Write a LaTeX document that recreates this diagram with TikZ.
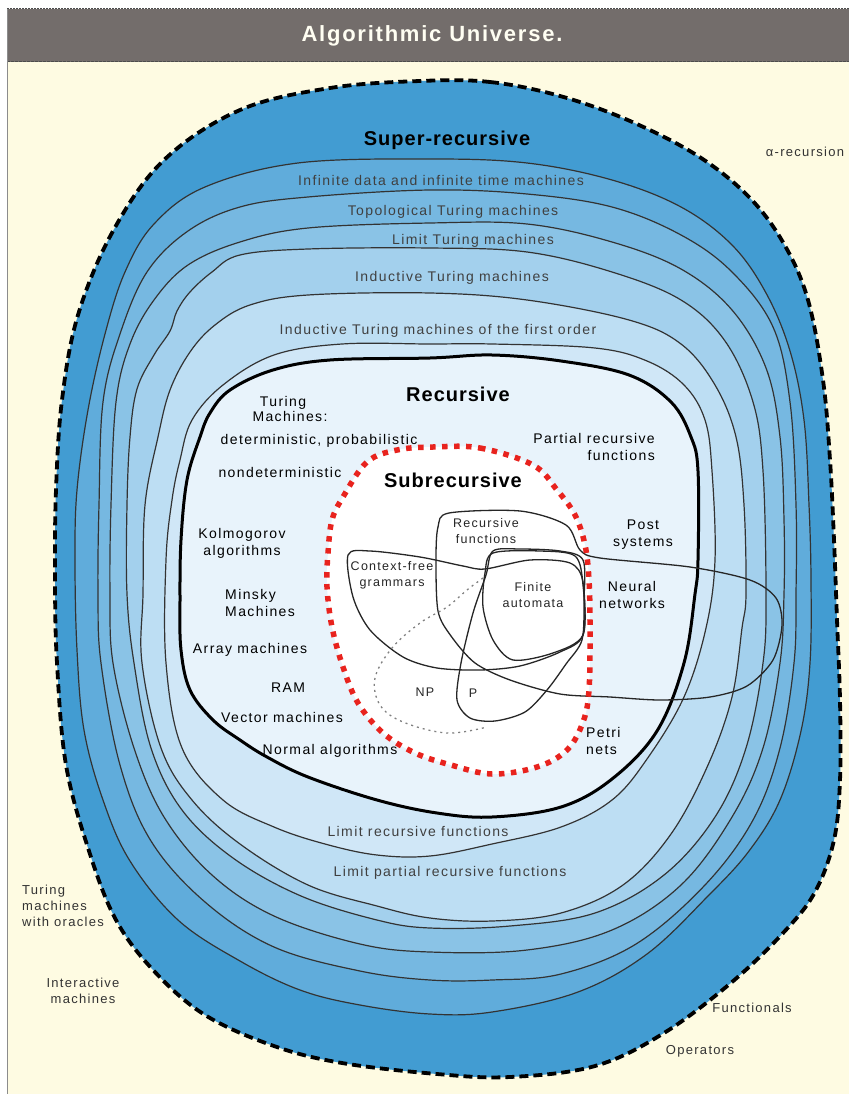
\documentclass[tikz,border=0pt]{standalone}
\usepackage{fontspec}
\setmainfont{Liberation Sans}
\newfontfamily\lblfont[LetterSpace=10]{Liberation Sans}
\newfontfamily\bigfont[LetterSpace=5]{Liberation Sans}
\newfontfamily\titlefont[LetterSpace=8]{Liberation Sans}
\usetikzlibrary{positioning}
\tikzstyle{ring} = [line width=1.2pt, draw=black!80]
\tikzstyle{venn} = [line width=1.3pt, draw=black!85]
\tikzstyle{band} = [font=\lblfont\fontsize{14}{17}\selectfont, text=black!75, inner sep=0pt]
\tikzstyle{inner} = [font=\lblfont\fontsize{14}{17}\selectfont, text=black, inner sep=0pt, align=center]
\tikzstyle{small} = [font=\lblfont\fontsize{12.5}{16}\selectfont, text=black!85, inner sep=0pt, align=center]
\tikzstyle{outside} = [font=\lblfont\fontsize{13}{16}\selectfont, text=black!80, inner sep=0pt, align=center]
\tikzstyle{head} = [font=\bigfont\bfseries\fontsize{20}{24}\selectfont, inner sep=0pt]
\definecolor{cream}{RGB}{254,251,226}
\definecolor{titlegray}{RGB}{115,109,107}
\definecolor{bandsuper}{RGB}{66,156,210}
\definecolor{bandinf}{RGB}{96,172,219}
\definecolor{bandtopo}{RGB}{118,184,225}
\definecolor{bandlim}{RGB}{138,195,230}
\definecolor{bandind}{RGB}{163,208,237}
\definecolor{bandfirst}{RGB}{189,222,243}
\definecolor{bandlimrec}{RGB}{208,231,247}
\definecolor{recfill}{RGB}{232,243,251}
\definecolor{subred}{RGB}{232,35,30}

\begin{document}
\begin{tikzpicture}[x=1pt,y=-1pt,node distance=1pt and 0pt]
  \useasboundingbox (0,0) rectangle (849,1094);
  \fill[white] (0,0) rectangle (849,1094);
  \fill[cream] (7,62) rectangle (849,1094);
  \fill[titlegray] (7,9) rectangle (849,62);
  \draw[black!70, line width=1pt, dash pattern=on 2pt off 1pt] (7,9) -- (849,9);
  \draw[black!70, line width=1pt, dash pattern=on 3pt off 1pt] (7,62) -- (849,62);
  \draw[black!45, line width=1pt] (7,9) -- (7,1094);
  \node[font=\titlefont\bfseries\fontsize{22}{26}\selectfont, text=white!95!yellow, inner sep=0pt] (title) at (432,36) {Algorithmic Universe.};

  % super-recursive universe
  \draw[fill=bandsuper, line width=3.8pt, dash pattern=on 9pt off 5pt] plot[smooth cycle, tension=0.6] coordinates {
    (420,81) (490,82) (560,96) (630,121) (698,156) (749,197) (784,244) (808,300) (823,380) (830,460)
    (834,540) (837,620) (840,700) (840,780) (834,840) (815,892) (784,932) (732,982) (664,1033) (595,1066)
    (510,1077) (437,1074) (342,1063) (274,1046) (205,1015) (154,971) (116,920) (89,851) (66,765) (57,663)
    (55,580) (56,490) (62,400) (78,315) (113,231) (164,160) (240,110) (330,88)};
  % infinite data and infinite time machines
  \filldraw[ring, fill=bandinf] plot[smooth cycle, tension=0.6] coordinates {
    (430,159) (527,163) (612,180) (681,207) (732,245) (766,293) (790,351) (804,420) (809,505) (811,580)
    (810,663) (801,731) (780,800) (749,851) (708,896) (647,954) (578,992) (492,1012) (430,1014) (360,1005)
    (300,990) (240,961) (178,920) (130,861) (103,800) (84,730) (77,650) (75,560) (77,490) (88,410)
    (105,334) (125,272) (154,224) (205,187) (298,163)};
  % topological
  \filldraw[ring, fill=bandtopo] plot[smooth cycle, tension=0.6] coordinates {
    (430,190) (527,194) (612,207) (681,235) (732,272) (773,327) (790,402) (796,505) (796,594) (794,663)
    (780,748) (753,820) (705,885) (636,944) (561,974) (492,980) (430,980) (360,971) (274,947) (205,902)
    (151,841) (120,765) (101,663) (98,594) (99,505) (103,402) (120,334) (147,272) (188,231) (240,207) (308,197)};
  % limit turing machines
  \filldraw[ring, fill=bandlim] plot[smooth cycle, tension=0.6] coordinates {
    (430,223) (527,224) (612,242) (681,269) (732,310) (766,368) (780,437) (784,520) (784,594) (780,663)
    (763,748) (732,817) (681,885) (612,930) (527,950) (430,952) (360,944) (274,916) (212,875) (164,817)
    (134,748) (113,663) (110,594) (111,505) (116,402) (130,344) (154,300) (188,265) (240,242) (308,228)};
  % inductive turing machines
  \filldraw[ring, fill=bandind] plot[smooth cycle, tension=0.6] coordinates {
    (430,248) (527,252) (612,272) (681,300) (725,341) (753,402) (763,471) (766,594) (763,663) (746,748)
    (715,817) (664,875) (595,913) (510,926) (430,928) (377,920) (301,896) (233,858) (182,810) (151,748)
    (134,663) (127,594) (127,505) (130,437) (137,389) (154,355) (170,331) (177,311) (190,292) (212,272)
    (240,255) (308,249)};
  % first order / limit partial recursive
  \filldraw[ring, fill=bandfirst] plot[smooth cycle, tension=0.6] coordinates {
    (430,293) (527,300) (629,320) (681,344) (715,385) (736,437) (744,505) (746,594) (742,628) (732,697)
    (708,765) (671,834) (623,885) (561,913) (492,921) (430,918) (377,906) (308,885) (240,844) (192,800)
    (161,748) (142,663) (143,594) (145,505) (158,437) (170,390) (190,352) (215,325) (250,305) (308,295)};
  % limit recursive functions
  \filldraw[ring, fill=bandlimrec] plot[smooth cycle, tension=0.6] coordinates {
    (430,344) (492,344) (595,348) (647,361) (684,385) (705,420) (712,471) (715,560) (706,628) (684,697)
    (647,759) (612,800) (561,827) (492,844) (430,856) (377,855) (325,844) (274,827) (223,800) (182,748)
    (166,663) (166,560) (172,500) (180,460) (192,420) (223,385) (274,355) (342,344)};
  % recursive
  \filldraw[line width=3pt, fill=recfill] plot[smooth cycle, tension=0.6] coordinates {
    (430,358) (492,355) (561,361) (629,375) (671,402) (691,437) (698,471) (698,560) (695,594) (684,663)
    (657,731) (612,779) (561,807) (492,817) (437,813) (377,800) (308,777) (267,757) (240,740) (213,720)
    (190,690) (181,650) (180,600) (181,540) (187,480) (200,437) (210,413) (230,390) (273,370) (330,360)};
  % subrecursive
  \fill[white] plot[smooth cycle, tension=0.6] coordinates {
    (433,447) (480,448) (533,465) (557,490) (575,515) (585,545) (589,580) (590,627) (589,690) (583,722)
    (567,750) (537,767) (492,774) (451,765) (415,753) (383,733) (358,703) (343,667) (332,627) (327,587)
    (328,553) (332,520) (343,497) (367,462) (397,450)};

  % venn blobs
  \draw[venn] plot[smooth cycle, tension=0.5] coordinates {
    (438,611) (436,560) (438,527) (449,513) (520,511) (566,525) (580,550) (600,558) (690,567) (750,580)
    (776,598) (782,625) (773,660) (747,686) (710,697) (660,700) (610,697) (560,694) (510,680) (475,663) (451,636)};
  \draw[venn] plot[smooth cycle, tension=0.5] coordinates {
    (348,555) (370,551) (420,557) (463,566) (485,569) (530,560) (570,563) (583,582) (583,635) (560,652)
    (520,666) (480,670) (437,668) (403,657) (370,630) (353,597)};
  \draw[venn] plot[smooth cycle, tension=0.5] coordinates {
    (485,573) (493,553) (540,551) (575,556) (583,585) (583,635) (553,653) (513,660) (493,640) (483,607)};
  \draw[venn] plot[smooth cycle, tension=0.5] coordinates {
    (493,551) (486,575) (473,613) (461,663) (457,700) (470,718) (495,721) (525,712) (547,690) (566,664)
    (582,640) (584,600) (583,560) (560,551) (520,549)};
  \draw[black!50, line width=1.3pt, dash pattern=on 2pt off 4pt] plot[smooth, tension=0.6] coordinates {
    (483,578) (467,590) (447,607) (420,623) (392,648) (375,678) (380,705) (403,722) (447,733) (487,727)};

  % red dotted boundary
  \draw[subred, line width=5.5pt, dash pattern=on 5.5pt off 6.5pt] plot[smooth cycle, tension=0.6] coordinates {
    (433,447) (480,448) (533,465) (557,490) (575,515) (585,545) (589,580) (590,627) (589,690) (583,722)
    (567,750) (537,767) (492,774) (451,765) (415,753) (383,733) (358,703) (343,667) (332,627) (327,587)
    (328,553) (332,520) (343,497) (367,462) (397,450)};

  % labels
  \node[head] (super) at (447,140) {Super-recursive};
  \node[band] (infdata) at (441,180) {Infinite data and infinite time machines};
  \node[band] (topo) at (453,212) {Topological Turing machines};
  \node[band] (limtm) at (473,241) {Limit Turing machines};
  \node[band] (indtm) at (452,278) {Inductive Turing machines};
  \node[band] (indfirst) at (438,331) {Inductive Turing machines of the first order};
  \node[head] (recursive) at (458,394) {Recursive};
  \node[head] (subrec) at (453,480) {Subrecursive};

  \node[inner] (turing) at (283,403) {Turing};
  \node[inner] (tmach) [below=of turing, xshift=7pt] {Machines:};
  \node[inner] (detprob) at (319,441) {deterministic, probabilistic};
  \node[inner] (nondet) at (280,472) {nondeterministic};
  \node[inner] (kolmo) at (242,543) {Kolmogorov\\algorithms};
  \node[inner, align=left, anchor=west] (minsky) at (225,603) {Minsky\\Machines};
  \node[inner] (array) at (250,650) {Array machines};
  \node[inner] (ram) at (288,688) {RAM};
  \node[inner] (vector) at (282,717) {Vector machines};
  \node[inner] (normal) at (330,751) {Normal algorithms};
  \node[inner, align=right, anchor=east] (partial) at (655,447) {Partial recursive\\functions};
  \node[inner] (post) at (643,535) {Post\\systems};
  \node[inner] (neural) at (632,595) {Neural\\networks};
  \node[inner, align=left, anchor=west] (petri) at (586,741) {Petri\\nets};

  \node[small] (recfun) at (486,531) {Recursive\\functions};
  \node[small] (cfg) at (392,575) {Context-free\\grammars};
  \node[small] (finite) at (533,595) {Finite\\automata};
  \node[small] (np) at (425,692) {NP};
  \node[small] (p) at (473,693) {P};

  \node[band] (limrec) at (418,831) {Limit recursive functions};
  \node[band] (limpart) at (450,873) {Limit partial recursive functions};

  \node[outside] (alpha) at (805,152) {α-recursion};
  \node[outside, align=left, anchor=west] (oracles) at (22,906) {Turing\\machines\\with oracles};
  \node[outside] (interactive) at (83,991) {Interactive\\machines};
  \node[outside] (functionals) at (752,1008) {Functionals};
  \node[outside] (operators) at (700,1051) {Operators};
\end{tikzpicture}
\end{document}
